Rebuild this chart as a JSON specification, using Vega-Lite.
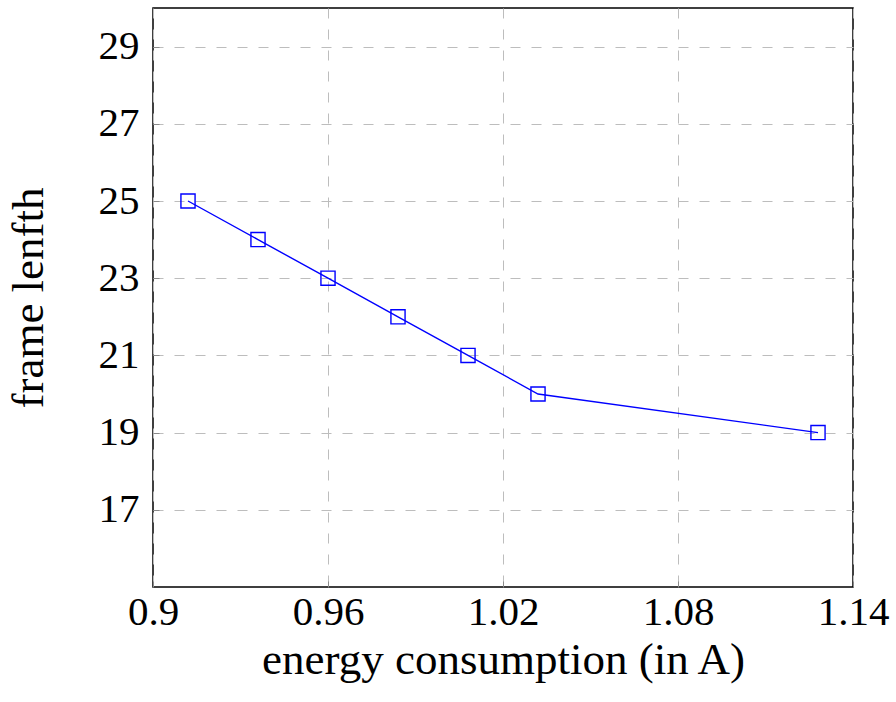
{
  "$schema": "https://vega.github.io/schema/vega-lite/v6.json",
  "width": 700,
  "height": 579,
  "autosize": {"type": "none"},
  "padding": {"left": 153, "top": 8, "right": 43, "bottom": 115},
  "background": "white",
  "config": {
    "view": {"stroke": "black", "strokeWidth": 1.5},
    "font": "Liberation Serif",
    "axis": {
      "labelFont": "Liberation Serif",
      "titleFont": "Liberation Serif",
      "labelFontSize": 41,
      "titleFontSize": 45,
      "labelColor": "black",
      "titleColor": "black",
      "titleFontWeight": "normal",
      "domain": false,
      "ticks": true,
      "tickSize": -6,
      "tickColor": "#8a8a8a",
      "tickWidth": 1,
      "grid": true,
      "gridColor": "#bdbdbd",
      "gridWidth": 1,
      "gridDash": [10, 11]
    }
  },
  "data": {
    "values": [
      {"energy": 0.912, "frame": 25},
      {"energy": 0.936, "frame": 24},
      {"energy": 0.96, "frame": 23},
      {"energy": 0.984, "frame": 22},
      {"energy": 1.008, "frame": 21},
      {"energy": 1.032, "frame": 20},
      {"energy": 1.128, "frame": 19}
    ]
  },
  "encoding": {
    "x": {
      "field": "energy",
      "type": "quantitative",
      "scale": {"domain": [0.9, 1.14], "nice": false, "zero": false},
      "axis": {
        "title": "energy consumption (in A)",
        "values": [0.9, 0.96, 1.02, 1.08, 1.14],
        "format": "~g",
        "labelPadding": 11,
        "titlePadding": 5,
        "labelFlush": false
      }
    },
    "y": {
      "field": "frame",
      "type": "quantitative",
      "scale": {"domain": [15, 30], "nice": false, "zero": false},
      "axis": {
        "title": "frame lenfth",
        "values": [17, 19, 21, 23, 25, 27, 29],
        "labelPadding": 20,
        "titlePadding": 47
      }
    }
  },
  "layer": [
    {
      "mark": {"type": "line", "color": "#0000ff", "strokeWidth": 1.4}
    },
    {
      "mark": {
        "type": "point",
        "shape": "square",
        "filled": false,
        "size": 200,
        "color": "#0000ff",
        "strokeWidth": 1.4,
        "opacity": 1
      }
    }
  ]
}
